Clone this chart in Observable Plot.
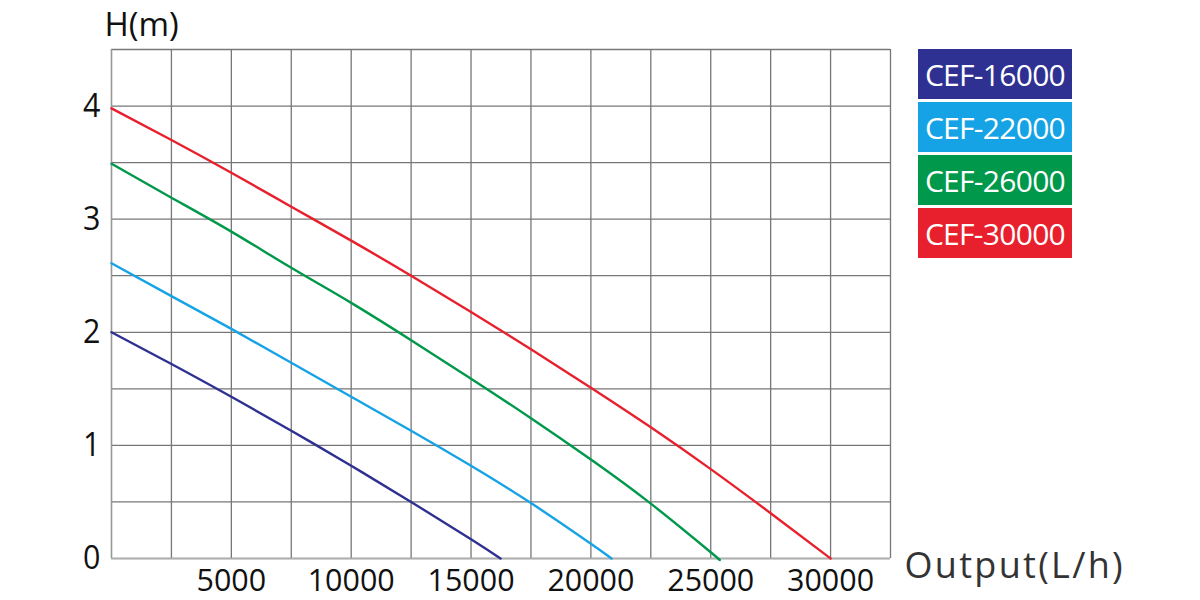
<!DOCTYPE html>
<html>
<head>
<meta charset="utf-8">
<script src="https://cdn.jsdelivr.net/npm/d3@7"></script>
<script src="https://cdn.jsdelivr.net/npm/@observablehq/plot@0.6"></script>
<style>
  body { margin: 0; background: #fff; }
  #wrap { position: relative; width: 1200px; height: 600px; overflow: hidden; }
  #legend { position: absolute; left: 918px; top: 49px; width: 154px; }
  .item { height: 50px; margin-bottom: 3px; color: #fff; font-family: "Open Sans", sans-serif; font-size: 30px;
          display: flex; align-items: center; justify-content: center; letter-spacing: -0.7px; }
</style>
</head>
<body>
<div id="wrap"><div id="legend"></div></div>
<script>
// ---- data ----
const flowTicks = [0, 2500, 5000, 7500, 10000, 12500, 15000, 17500, 20000, 22500, 25000, 27500, 30000, 32500];
const headTicks = [0, 0.5, 1, 1.5, 2, 2.5, 3, 3.5, 4, 4.5];
const xLabels = [5000, 10000, 15000, 20000, 25000, 30000];
const yLabels = [0, 1, 2, 3, 4];
const models = ["CEF-16000", "CEF-22000", "CEF-26000", "CEF-30000"];
const colors = ["#2e3192", "#16a3e6", "#00984a", "#e8202d"];

const flow16000 = [0, 2500, 5000, 7500, 10000, 12500, 15000, 16230];
const head16000 = [2.0, 1.72, 1.43, 1.13, 0.82, 0.5, 0.17, 0];
const flow22000 = [0, 2500, 5000, 7500, 10000, 12500, 15000, 17500, 20000, 20860];
const head22000 = [2.61, 2.32, 2.03, 1.73, 1.43, 1.13, 0.82, 0.49, 0.13, 0];
const flow26000 = [0, 2500, 5000, 7500, 10000, 12500, 15000, 17500, 20000, 22500, 25000, 25300];
const head26000 = [3.49, 3.19, 2.89, 2.57, 2.26, 1.93, 1.59, 1.24, 0.875, 0.485, 0.055, 0];
const flow30000 = [0, 2500, 5000, 7500, 10000, 12500, 15000, 17500, 20000, 22500, 25000, 27500, 30000];
const head30000 = [3.98, 3.70, 3.41, 3.11, 2.81, 2.50, 2.18, 1.85, 1.51, 1.16, 0.79, 0.40, 0];

const xTitle = "Output(L/h)";
const yTitle = "H(m)";

// ---- build table ----
const series = [[flow16000, head16000], [flow22000, head22000], [flow26000, head26000], [flow30000, head30000]];
const rows = [];
series.forEach(([fx, hy], i) => fx.forEach((f, j) => rows.push({model: models[i], flow: f, head: hy[j]})));

const font = '"Open Sans", sans-serif';

const chart = Plot.plot({
  width: 1200,
  height: 600,
  marginLeft: 111,
  marginRight: 310,
  marginTop: 49,
  marginBottom: 42,
  style: {fontFamily: font, background: "#fff"},
  x: {domain: [0, 32500], axis: null},
  y: {domain: [0, 4.5], axis: null},
  color: {domain: models, range: colors},
  marks: [
    Plot.ruleX(flowTicks, {stroke: "#777", strokeWidth: 1.3}),
    Plot.ruleY(headTicks, {stroke: "#777", strokeWidth: 1.3}),
    Plot.ruleX([0], {stroke: "#999", strokeWidth: 1.3}),
    Plot.ruleY([0], {stroke: "#b0b0b0", strokeWidth: 1.6}),
    Plot.line(rows, {x: "flow", y: "head", z: "model", stroke: "model", strokeWidth: 2.4, curve: "natural"}),
    Plot.text(xLabels, {x: d => d, y: 0, dy: 23, text: d => String(d), fontSize: 31, fill: "#111"}),
    Plot.text(yLabels, {x: 0, y: d => d, dx: -11, textAnchor: "end", text: d => String(d), fontSize: 33, fill: "#111"}),
    Plot.text([xTitle], {x: 32500, y: 0, dx: 14, dy: 8, textAnchor: "start", text: d => d, fontSize: 36, fill: "#333"}),
    Plot.text([yTitle], {x: 0, y: 4.5, dx: -7, dy: -24, textAnchor: "start", text: d => d, fontSize: 33, fill: "#111"})
  ]
});

// narrow the numeric labels (the original uses narrow-digit type)
d3.select(chart).selectAll("text").each(function() {
  const t = this.textContent;
  if (/^\d+$/.test(t)) {
    this.setAttribute("textLength", t.length * 17.4);
    this.setAttribute("lengthAdjust", "spacingAndGlyphs");
  } else if (t === xTitle) {
    this.setAttribute("letter-spacing", "2.3");
  }
});

const wrap = document.getElementById("wrap");
wrap.insertBefore(chart, wrap.firstChild);

const legend = d3.select("#legend");
models.forEach((m, i) => {
  legend.append("div").attr("class", "item").style("background", colors[i]).text(m);
});
</script>
</body>
</html>
